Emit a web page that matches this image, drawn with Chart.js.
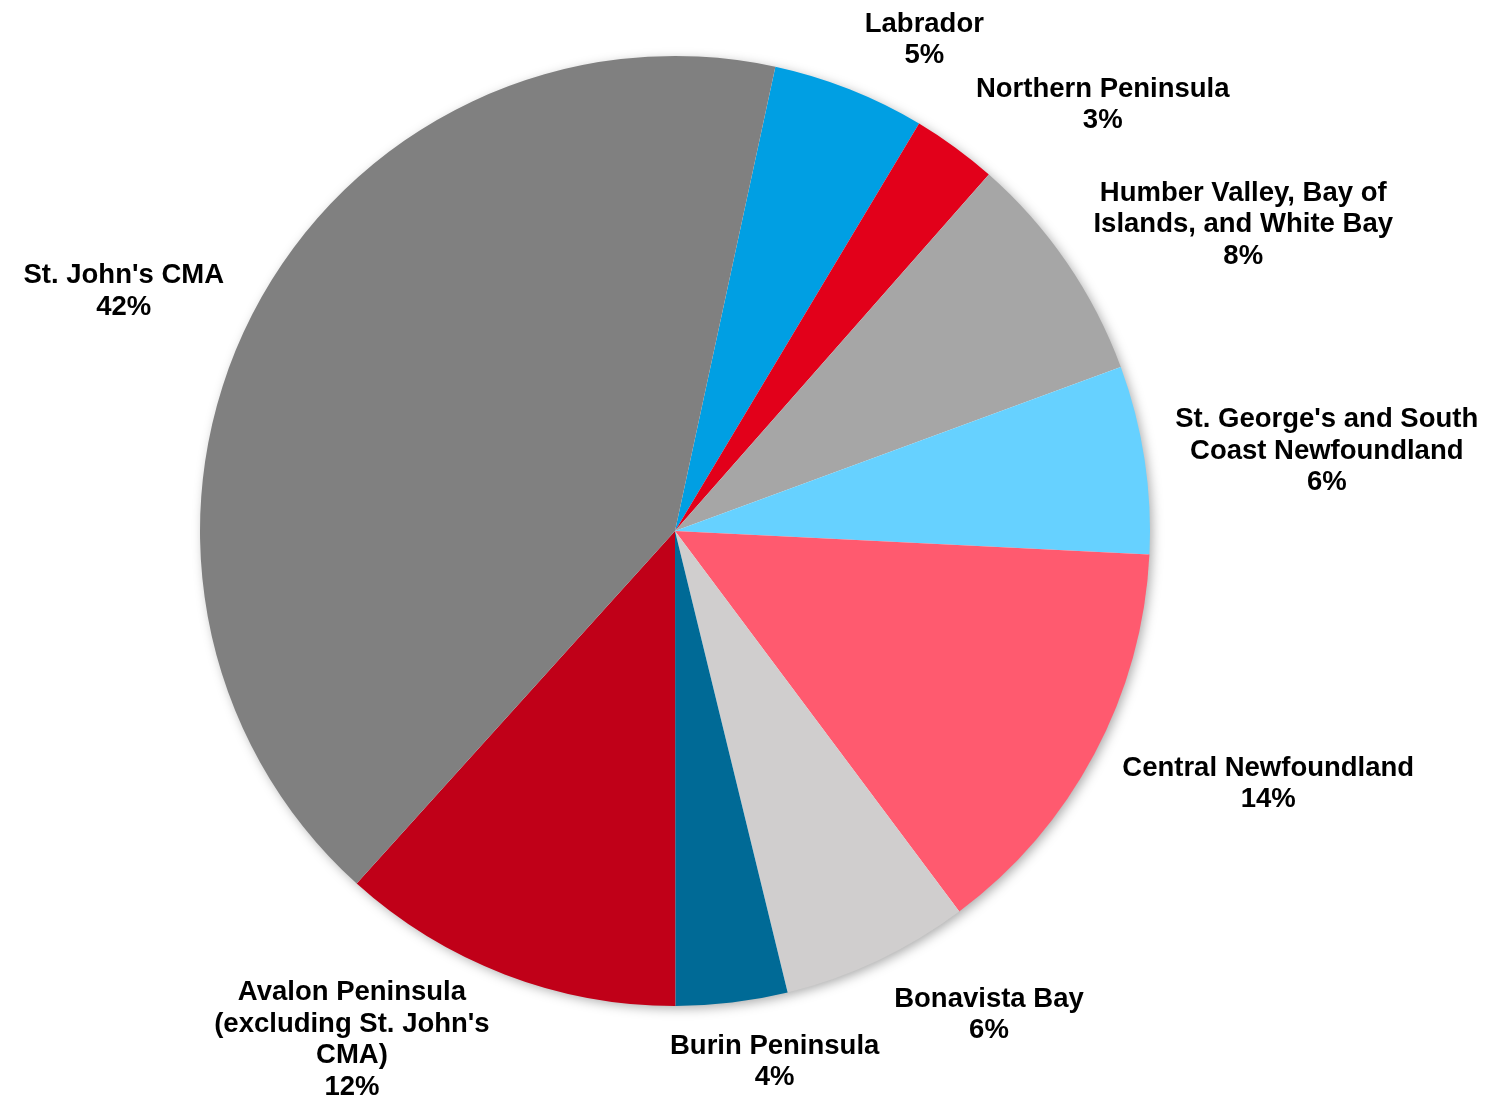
<!DOCTYPE html>
<html>
<head>
<meta charset="utf-8">
<script src="https://cdn.jsdelivr.net/npm/chart.js@4/dist/chart.umd.min.js"></script>
<style>
  html, body { margin: 0; padding: 0; background: #ffffff; }
  #wrap { width: 1491px; height: 1098px; }
</style>
</head>
<body>
<div id="wrap"><canvas id="c" width="1491" height="1098"></canvas></div>
<script>
// Categories (one entry per slice, each as its wrapped label lines), clockwise from the top
const categories = [
  ["Labrador"],
  ["Northern Peninsula"],
  ["Humber Valley, Bay of", "Islands, and White Bay"],
  ["St. George's and South", "Coast Newfoundland"],
  ["Central Newfoundland"],
  ["Bonavista Bay"],
  ["Burin Peninsula"],
  ["Avalon Peninsula", "(excluding St. John's", "CMA)"],
  ["St. John's CMA"]
];
// Share of total (percent)
const shares = [5.2, 2.9, 7.9, 6.4, 14.0, 6.4, 3.8, 11.7, 41.7];
const sliceColors = [
  "#009FE3", "#E2001A", "#A6A6A6", "#66D1FF", "#FF5A6F",
  "#D0CECE", "#006A96", "#C00018", "#808080"
];

const FONT = "bold 27.5px 'Liberation Sans', Arial, sans-serif";
const LINE_H = 31.5;
const BASELINE_SHIFT = 3;

const shadowPlugin = {
  id: 'pieShadow',
  beforeDatasetsDraw(chart) {
    const meta = chart.getDatasetMeta(0);
    if (!meta.data.length) return;
    const a = meta.data[0];
    const ctx = chart.ctx;
    ctx.save();
    ctx.shadowColor = 'rgba(0,0,0,0.35)';
    ctx.shadowBlur = 12;
    ctx.shadowOffsetX = 3;
    ctx.shadowOffsetY = 3;
    ctx.fillStyle = '#ffffff';
    ctx.beginPath();
    ctx.arc(a.x, a.y, a.outerRadius - 1, 0, Math.PI * 2);
    ctx.fill();
    ctx.restore();
  }
};

const labelPlugin = {
  id: 'outsideLabels',
  afterDatasetsDraw(chart) {
    const ctx = chart.ctx;
    const meta = chart.getDatasetMeta(0);
    const data = chart.data.datasets[0].data;
    const total = data.reduce((s, v) => s + v, 0);
    const clamp = v => Math.max(-1, Math.min(1, v));
    ctx.save();
    ctx.font = FONT;
    ctx.fillStyle = '#000000';
    ctx.textAlign = 'center';
    ctx.textBaseline = 'middle';
    meta.data.forEach((arc, i) => {
      const p = arc.getProps(['x', 'y', 'startAngle', 'endAngle', 'outerRadius'], true);
      const mid = (p.startAngle + p.endAngle) / 2;
      const lines = chart.data.labels[i].concat([Math.round(data[i] / total * 100) + '%']);
      const w = Math.max(...lines.map(l => ctx.measureText(l).width));
      const h = lines.length * LINE_H;
      const r = p.outerRadius + 25;
      const cx = p.x + r * Math.cos(mid) + (w / 2 + 6) * clamp(3 * Math.cos(mid));
      let cy = p.y + r * Math.sin(mid) + (h / 2) * Math.sin(mid);
      // keep the label block inside the canvas
      cy = Math.min(cy, chart.height + 2 - h / 2);
      cy = Math.max(cy, h / 2 - 5);
      lines.forEach((l, k) => {
        ctx.fillText(l, cx, cy + BASELINE_SHIFT + (k - (lines.length - 1) / 2) * LINE_H);
      });
    });
    ctx.restore();
  }
};

new Chart(document.getElementById('c'), {
  type: 'pie',
  data: {
    labels: categories,
    datasets: [{
      data: shares,
      backgroundColor: sliceColors,
      borderWidth: 0
    }]
  },
  options: {
    responsive: false,
    devicePixelRatio: 1,
    animation: false,
    rotation: 12.2,
    layout: { padding: { top: 56, bottom: 92, left: 200, right: 341 } },
    plugins: {
      legend: { display: false },
      tooltip: { enabled: false },
      title: { display: false }
    }
  },
  plugins: [shadowPlugin, labelPlugin]
});
</script>
</body>
</html>
